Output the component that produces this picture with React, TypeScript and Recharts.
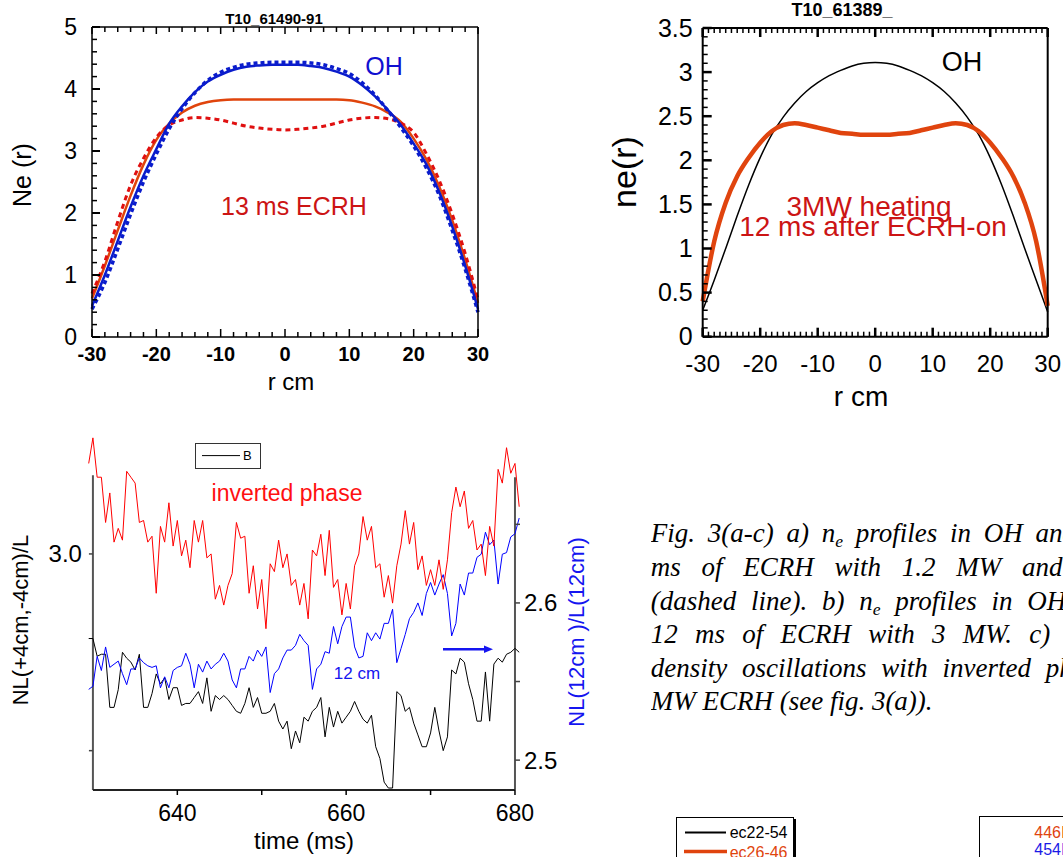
import React from "react";
import { LineChart, Line, XAxis, YAxis, ReferenceLine } from "recharts";

const SANS = '"Liberation Sans", Arial, Helvetica, sans-serif';
const SERIF = '"Liberation Serif", "Times New Roman", Times, serif';

// (a) T10_61490-91: Ne(r) in OH and after 13 ms of ECRH
const radiusA = [-30, -28, -26, -24, -22, -20, -18, -16, -14, -12, -10, -8, -6, -4, -2, 0, 2, 4, 6, 8, 10, 12, 14, 16, 18, 20, 22, 24, 26, 28, 30];
const neOhA = [0.5, 1.0, 1.55, 2.1, 2.6, 3.03, 3.44, 3.72, 3.95, 4.12, 4.23, 4.31, 4.36, 4.38, 4.39, 4.39, 4.39, 4.37, 4.34, 4.28, 4.2, 4.06, 3.88, 3.66, 3.42, 3.12, 2.78, 2.33, 1.78, 1.15, 0.45];
const neOhDashA = [0.45, 0.88, 1.42, 1.98, 2.5, 2.95, 3.36, 3.68, 3.94, 4.14, 4.27, 4.35, 4.4, 4.42, 4.43, 4.43, 4.43, 4.42, 4.39, 4.33, 4.25, 4.1, 3.9, 3.65, 3.38, 3.08, 2.72, 2.28, 1.72, 1.1, 0.4];
const neEcrhA = [0.62, 1.15, 1.72, 2.28, 2.78, 3.18, 3.44, 3.62, 3.73, 3.79, 3.82, 3.83, 3.83, 3.83, 3.83, 3.83, 3.83, 3.83, 3.83, 3.83, 3.82, 3.78, 3.72, 3.62, 3.47, 3.2, 2.86, 2.42, 1.88, 1.25, 0.55];
const neEcrhDashA = [0.7, 1.22, 1.86, 2.45, 2.88, 3.22, 3.42, 3.5, 3.54, 3.53, 3.5, 3.45, 3.4, 3.37, 3.35, 3.34, 3.35, 3.37, 3.4, 3.45, 3.5, 3.53, 3.54, 3.52, 3.45, 3.3, 2.95, 2.52, 1.98, 1.35, 0.6];

// (b) T10_61389_: ne(r) in OH and 12 ms after 3 MW ECRH-on
const radiusB = [-30, -28, -26, -24, -22, -20, -18, -16, -14, -12, -10, -8, -6, -4, -2, 0, 2, 4, 6, 8, 10, 12, 14, 16, 18, 20, 22, 24, 26, 28, 30];
const neOhB = [0.3, 0.64, 1.0, 1.37, 1.72, 2.03, 2.29, 2.49, 2.65, 2.78, 2.88, 2.96, 3.02, 3.07, 3.1, 3.11, 3.1, 3.07, 3.02, 2.96, 2.88, 2.78, 2.65, 2.49, 2.29, 2.03, 1.72, 1.37, 1.0, 0.64, 0.28];
const neEcrhB = [0.4, 1.08, 1.52, 1.82, 2.03, 2.2, 2.33, 2.4, 2.42, 2.4, 2.37, 2.34, 2.31, 2.3, 2.29, 2.29, 2.29, 2.3, 2.31, 2.34, 2.37, 2.4, 2.42, 2.4, 2.33, 2.2, 2.03, 1.82, 1.52, 1.08, 0.35];

// (c) line densities vs time, sampled every 0.5 ms from 629.5 ms
const timeStart = 629.5;
const timeStep = 0.5;
const nlInverted = [
  3.046, 3.059, 3.039, 3.039, 3.016, 3.031, 3.006, 3.013, 3.007, 3.042,
  3.039, 3.036, 3.016, 3.017, 3.006, 3.009, 2.98, 3.014, 3.006, 3.026,
  3.004, 3.017, 2.999, 3.007, 2.993, 3.017, 3.006, 3.017, 2.998, 3.0,
  2.977, 2.984, 2.974, 2.984, 2.99, 3.016, 3.008, 3.009, 2.98, 2.994,
  2.972, 2.987, 2.962, 2.995, 2.991, 3.007, 2.993, 3.0, 2.984, 2.987,
  2.974, 2.985, 2.967, 3.002, 2.999, 3.01, 2.989, 3.012, 2.983, 2.987,
  2.969, 2.985, 2.972, 2.994, 3.0, 3.019, 3.007, 3.014, 2.993, 2.995,
  2.978, 2.989, 2.975, 2.994, 3.005, 3.022, 3.005, 3.016, 2.992, 2.999,
  2.984, 2.992, 2.984, 2.997, 2.982, 2.997, 3.021, 3.034, 3.024, 3.032,
  3.013, 3.017, 3.002, 3.005, 2.989, 3.014, 3.004, 3.043, 3.036, 3.054,
  3.041, 3.046, 3.024,
];
const nlB = [
  2.957, 2.957, 2.948, 2.949, 2.949, 2.922, 2.922, 2.931, 2.95, 2.947,
  2.945, 2.941, 2.949, 2.922, 2.922, 2.929, 2.939, 2.934, 2.937, 2.926,
  2.932, 2.932, 2.923, 2.924, 2.924, 2.927, 2.93, 2.924, 2.937, 2.92,
  2.928, 2.926, 2.928, 2.926, 2.923, 2.92, 2.919, 2.924, 2.932, 2.922,
  2.927, 2.919, 2.919, 2.92, 2.924, 2.915, 2.911, 2.915, 2.901, 2.91,
  2.904, 2.917, 2.915, 2.92, 2.922, 2.927, 2.907, 2.922, 2.912, 2.92,
  2.914, 2.917, 2.92, 2.925, 2.92, 2.916, 2.914, 2.918, 2.902, 2.896,
  2.884, 2.881, 2.881, 2.93, 2.928, 2.92, 2.922, 2.914, 2.908, 2.902,
  2.902, 2.909, 2.922, 2.91, 2.9, 2.907, 2.941, 2.939, 2.947, 2.945,
  2.934, 2.926, 2.915, 2.915, 2.94, 2.915, 2.944, 2.947, 2.945, 2.949,
  2.95, 2.952, 2.95,
];
const nl12cm = [
  2.545, 2.547, 2.566, 2.557, 2.572, 2.559, 2.561, 2.563, 2.555, 2.548,
  2.558, 2.558, 2.565, 2.562, 2.56, 2.559, 2.56, 2.546, 2.553, 2.546,
  2.557, 2.559, 2.56, 2.568, 2.561, 2.546, 2.561, 2.556, 2.563, 2.558,
  2.561, 2.563, 2.568, 2.563, 2.551, 2.546, 2.558, 2.558, 2.566, 2.563,
  2.57, 2.566, 2.572, 2.543, 2.555, 2.558, 2.565, 2.57, 2.57, 2.573,
  2.58, 2.576, 2.573, 2.545, 2.558, 2.561, 2.569, 2.568, 2.585, 2.574,
  2.585, 2.591, 2.591, 2.572, 2.565, 2.566, 2.581, 2.576, 2.581, 2.577,
  2.587, 2.587, 2.596, 2.562, 2.571, 2.58, 2.59, 2.594, 2.6, 2.592,
  2.606, 2.613, 2.605, 2.612, 2.618, 2.606, 2.579, 2.587, 2.612, 2.605,
  2.619, 2.619, 2.629, 2.631, 2.645, 2.637, 2.64, 2.612, 2.631, 2.632,
  2.642, 2.644, 2.654,
];

// axis ticks
const rMajor = [-30, -20, -10, 0, 10, 20, 30];
const neMajorA = [0, 1, 2, 3, 4, 5];
const neMajorB = [0, 0.5, 1, 1.5, 2, 2.5, 3, 3.5];
const timeTicks = [640, 650, 660, 670, 680];
const timeLabels = [640, 660, 680];
const leftTicksC = [2.9, 3.0];
const leftLabelsC = [3.0];
const rightTicksC = [2.5, 2.55, 2.6, 2.65];
const rightLabelsC = [2.5, 2.6];

const steps = (from: number, to: number, step: number) => {
  const out: number[] = [];
  for (let v = from; v <= to + 1e-9; v += step) out.push(Number(v.toFixed(3)));
  return out;
};

const near = (list: number[], v: number) => list.some((m) => Math.abs(m - v) < 1e-6);

type TickCfg = {
  side: "bottom" | "top" | "left" | "right";
  major: number[];
  labels?: number[];
  fmt?: (v: number) => string;
  majorLen: number;
  minorLen: number;
  inward: boolean;
  gap?: number;
  fontSize?: number;
  fontWeight?: number | string;
  color?: string;
  width?: number;
  shift?: number;
};

function tickRenderer(c: TickCfg) {
  return (props: any) => {
    const v = Number(props.payload?.value);
    const vertical = c.side === "left" || c.side === "right";
    const x = Number(props.x) + (vertical ? c.shift ?? 0 : 0);
    const y = Number(props.y);
    const isMajor = near(c.major, v);
    const len = isMajor ? c.majorLen : c.minorLen;
    const stroke = c.color ?? "#000";
    const sw = isMajor ? c.width ?? 1.5 : Math.min(c.width ?? 1.5, 1.5);
    const gap = c.gap ?? 8;
    const label = c.labels && near(c.labels, v) ? (c.fmt ? c.fmt(v) : String(v)) : null;
    const textProps = {
      fontFamily: SANS,
      fontSize: c.fontSize ?? 20,
      fontWeight: c.fontWeight ?? "normal",
      fill: "#000",
    };
    if (!vertical) {
      const dir = (c.side === "bottom") === c.inward ? -1 : 1;
      return (
        <g>
          <line x1={x} x2={x} y1={y} y2={y + dir * len} stroke={stroke} strokeWidth={sw} />
          {label !== null && (
            <text x={x} y={c.side === "bottom" ? y + gap : y - gap} textAnchor="middle" dy="0.35em" {...textProps}>
              {label}
            </text>
          )}
        </g>
      );
    }
    const dir = (c.side === "left") === c.inward ? 1 : -1;
    return (
      <g>
        <line x1={x} x2={x + dir * len} y1={y} y2={y} stroke={stroke} strokeWidth={sw} />
        {label !== null && (
          <text
            x={c.side === "left" ? x - gap : x + gap}
            y={y}
            textAnchor={c.side === "left" ? "end" : "start"}
            dy="0.35em"
            {...textProps}
          >
            {label}
          </text>
        )}
      </g>
    );
  };
}

// axes are 1px thick so that recharts still draws them; margins take that pixel back
const AX = 1;
const axisCommon = { tickSize: 0, tickMargin: 0, tickLine: false, interval: 0 as const };

type TxtProps = {
  x: number;
  y: number;
  size: number;
  color?: string;
  weight?: string | number;
  rotate?: boolean;
  children: React.ReactNode;
};

const Txt = ({ x, y, size, color = "#000", weight = "normal", rotate, children }: TxtProps) => (
  <div
    style={{
      position: "absolute",
      left: x,
      top: y,
      transform: `translate(-50%, -50%)${rotate ? " rotate(-90deg)" : ""}`,
      fontFamily: SANS,
      fontSize: size,
      fontWeight: weight,
      color,
      lineHeight: 1,
      whiteSpace: "nowrap",
    }}
  >
    {children}
  </div>
);

// ---------- panel (a) ----------
const PA = { w: 540, h: 400, left: 92, right: 478, top: 27, bottom: 337 };
const panelA = radiusA.map((r, i) => ({
  r,
  oh: neOhA[i],
  ohDash: neOhDashA[i],
  ecrh: neEcrhA[i],
  ecrhDash: neEcrhDashA[i],
}));

function PanelA() {
  const xTicks = steps(-30, 30, 2);
  const yTicks = steps(0, 5, 0.2);
  const frame = { stroke: "#000", strokeWidth: 1.5 };
  return (
    <div style={{ position: "absolute", left: 0, top: 0 }}>
      <LineChart
        width={PA.w}
        height={PA.h}
        data={panelA}
        margin={{ top: PA.top - AX, left: PA.left - AX, right: PA.w - PA.right - AX, bottom: PA.h - PA.bottom - AX }}
      >
        <XAxis
          xAxisId="b"
          dataKey="r"
          type="number"
          domain={[-30, 30]}
          ticks={xTicks}
          height={AX}
          axisLine={frame}
          {...axisCommon}
          tick={tickRenderer({ side: "bottom", major: rMajor, labels: rMajor, majorLen: 8, minorLen: 5, inward: true, gap: 17, fontSize: 20, fontWeight: "bold" })}
        />
        <XAxis
          xAxisId="t"
          orientation="top"
          dataKey="r"
          type="number"
          domain={[-30, 30]}
          ticks={xTicks}
          height={AX}
          axisLine={frame}
          {...axisCommon}
          tick={tickRenderer({ side: "top", major: rMajor, majorLen: 7, minorLen: 5, inward: true })}
        />
        <YAxis
          yAxisId="l"
          type="number"
          domain={[0, 5]}
          ticks={yTicks}
          width={AX}
          axisLine={frame}
          {...axisCommon}
          tick={tickRenderer({ side: "left", major: neMajorA, labels: neMajorA, majorLen: 8, minorLen: 5, inward: true, gap: 15, fontSize: 23, width: 2 })}
        />
        <YAxis
          yAxisId="r"
          orientation="right"
          type="number"
          domain={[0, 5]}
          ticks={yTicks}
          width={AX}
          axisLine={frame}
          {...axisCommon}
          tick={tickRenderer({ side: "right", major: neMajorA, majorLen: 8, minorLen: 5, inward: true, width: 2 })}
        />
        <Line xAxisId="b" yAxisId="l" dataKey="ecrh" type="monotone" stroke="#e0440c" strokeWidth={2.5} dot={false} activeDot={false} isAnimationActive={false} />
        <Line xAxisId="b" yAxisId="l" dataKey="ecrhDash" type="monotone" stroke="#e01010" strokeWidth={3} strokeDasharray="5 4" dot={false} activeDot={false} isAnimationActive={false} />
        <Line xAxisId="b" yAxisId="l" dataKey="oh" type="monotone" stroke="#0a1ccc" strokeWidth={2.5} dot={false} activeDot={false} isAnimationActive={false} />
        <Line xAxisId="b" yAxisId="l" dataKey="ohDash" type="monotone" stroke="#0a1ccc" strokeWidth={3.5} strokeDasharray="4 3" dot={false} activeDot={false} isAnimationActive={false} />
      </LineChart>
    </div>
  );
}

// ---------- panel (b) ----------
const PB = { x0: 600, w: 463, h: 420, left: 102.7, right: 447.7, top: 28, bottom: 336.7 };
const panelB = radiusB.map((r, i) => ({ r, oh: neOhB[i], ecrh: neEcrhB[i] }));

function PanelB() {
  const xTicks = steps(-30, 30, 1);
  const yTicks = steps(0, 3.5, 0.1);
  const frame = { stroke: "#000", strokeWidth: 2 };
  return (
    <div style={{ position: "absolute", left: PB.x0, top: 0 }}>
      <LineChart
        width={PB.w}
        height={PB.h}
        data={panelB}
        margin={{ top: PB.top - AX, left: PB.left - AX, right: PB.w - PB.right - AX, bottom: PB.h - PB.bottom - AX }}
      >
        <XAxis
          xAxisId="b"
          dataKey="r"
          type="number"
          domain={[-30, 30]}
          ticks={xTicks}
          height={AX}
          axisLine={frame}
          {...axisCommon}
          tick={tickRenderer({ side: "bottom", major: rMajor, labels: rMajor, majorLen: 9, minorLen: 5, inward: true, gap: 27, fontSize: 24, width: 2.5 })}
        />
        <XAxis
          xAxisId="t"
          orientation="top"
          dataKey="r"
          type="number"
          domain={[-30, 30]}
          ticks={xTicks}
          height={AX}
          axisLine={frame}
          {...axisCommon}
          tick={tickRenderer({ side: "top", major: rMajor, majorLen: 9, minorLen: 5, inward: true, width: 2.5 })}
        />
        <YAxis
          yAxisId="l"
          type="number"
          domain={[0, 3.5]}
          ticks={yTicks}
          width={AX}
          axisLine={frame}
          {...axisCommon}
          tick={tickRenderer({ side: "left", major: neMajorB, labels: neMajorB, majorLen: 9, minorLen: 5, inward: true, gap: 10, fontSize: 25, width: 2.5 })}
        />
        <YAxis
          yAxisId="r"
          orientation="right"
          type="number"
          domain={[0, 3.5]}
          ticks={yTicks}
          width={AX}
          axisLine={frame}
          {...axisCommon}
          tick={tickRenderer({ side: "right", major: neMajorB, majorLen: 9, minorLen: 5, inward: true, width: 2.5 })}
        />
        <Line xAxisId="b" yAxisId="l" dataKey="oh" type="monotone" stroke="#000" strokeWidth={1.5} dot={false} activeDot={false} isAnimationActive={false} />
        <Line xAxisId="b" yAxisId="l" dataKey="ecrh" type="monotone" stroke="#e0440e" strokeWidth={4.5} dot={false} activeDot={false} isAnimationActive={false} />
      </LineChart>
    </div>
  );
}

// ---------- panel (c) ----------
const PC = { y0: 420, w: 600, h: 437, left: 88.7, right: 519.2, top: 10, bottom: 370 };
const times = nlInverted.map((_, i) => timeStart + i * timeStep);
const panelC = times.map((t, i) => ({ t, red: nlInverted[i], black: nlB[i], blue: nl12cm[i] }));
const tMin = times[0];
const tMax = times[times.length - 1];
const leftDomainC: [number, number] = [2.88, 3.063];
const rightDomainC: [number, number] = [2.481, 2.71];
const leftAxisTop = 3.04;
const rightAxisTop = 2.68;

function PanelC() {
  const pxPerMs = (PC.right - PC.left) / (tMax - tMin);
  const shiftL = (630 - tMin) * pxPerMs;
  const shiftR = (680 - tMax) * pxPerMs;
  return (
    <div style={{ position: "absolute", left: 0, top: PC.y0 }}>
      <LineChart
        width={PC.w}
        height={PC.h}
        data={panelC}
        margin={{ top: PC.top, left: PC.left - AX, right: PC.w - PC.right - AX, bottom: PC.h - PC.bottom - AX }}
      >
        <XAxis
          xAxisId="b"
          dataKey="t"
          type="number"
          domain={[tMin, tMax]}
          ticks={timeTicks}
          height={AX}
          axisLine={false}
          {...axisCommon}
          tick={tickRenderer({ side: "bottom", major: timeTicks, labels: timeLabels, majorLen: 5, minorLen: 5, inward: false, gap: 23, fontSize: 23, width: 1.5 })}
        />
        <YAxis
          yAxisId="l"
          type="number"
          domain={leftDomainC}
          ticks={leftTicksC}
          width={AX}
          axisLine={false}
          {...axisCommon}
          tick={tickRenderer({ side: "left", major: leftTicksC, labels: leftLabelsC, fmt: (v) => v.toFixed(1), majorLen: 4, minorLen: 4, inward: false, gap: 11, fontSize: 24, color: "#444", shift: shiftL })}
        />
        <YAxis
          yAxisId="r"
          orientation="right"
          type="number"
          domain={rightDomainC}
          ticks={rightTicksC}
          width={AX}
          axisLine={false}
          {...axisCommon}
          tick={tickRenderer({ side: "right", major: rightTicksC, labels: rightLabelsC, fmt: (v) => v.toFixed(1), majorLen: 5, minorLen: 5, inward: false, gap: 9, fontSize: 24, color: "#444", shift: shiftR })}
        />
        <ReferenceLine xAxisId="b" yAxisId="l" segment={[{ x: 630, y: leftDomainC[0] }, { x: 630, y: leftAxisTop }]} stroke="#555" strokeWidth={2} />
        <ReferenceLine xAxisId="b" yAxisId="r" segment={[{ x: 680, y: rightDomainC[0] }, { x: 680, y: rightAxisTop }]} stroke="#555" strokeWidth={2} />
        <ReferenceLine xAxisId="b" yAxisId="l" segment={[{ x: 630, y: leftDomainC[0] }, { x: 680, y: leftDomainC[0] }]} stroke="#222" strokeWidth={2} />
        <Line xAxisId="b" yAxisId="l" dataKey="black" type="linear" stroke="#000" strokeWidth={1} dot={false} activeDot={false} isAnimationActive={false} />
        <Line xAxisId="b" yAxisId="r" dataKey="blue" type="linear" stroke="#0000ff" strokeWidth={1} dot={false} activeDot={false} isAnimationActive={false} />
        <Line xAxisId="b" yAxisId="l" dataKey="red" type="linear" stroke="#ff0000" strokeWidth={1} dot={false} activeDot={false} isAnimationActive={false} />
      </LineChart>
    </div>
  );
}

function Caption() {
  const sub = (s: string) => (
    <sub style={{ fontSize: "0.65em", verticalAlign: "-0.3em", lineHeight: 0 }}>{s}</sub>
  );
  const lines: { spacing: number; content: React.ReactNode }[] = [
    { spacing: 6, content: <>Fig. 3(a-c) a) n{sub("e")} profiles in OH and</> },
    { spacing: 14, content: <>ms of ECRH with 1.2 MW and</> },
    { spacing: 8, content: <>(dashed line). b) n{sub("e")} profiles in OH</> },
    { spacing: 10.5, content: <>12 ms of ECRH with 3 MW. c)</> },
    { spacing: 8, content: <>density oscillations with inverted phase</> },
    { spacing: 0, content: <>MW ECRH (see fig. 3(a)).</> },
  ];
  return (
    <div
      style={{
        position: "absolute",
        left: 650.7,
        top: 517.4,
        width: 1063 - 650.7,
        overflow: "hidden",
        fontFamily: SERIF,
        fontStyle: "italic",
        fontSize: 27,
        lineHeight: "33.6px",
        color: "#000",
      }}
    >
      {lines.map((l, i) => (
        <div key={i} style={{ whiteSpace: "nowrap", wordSpacing: l.spacing }}>
          {l.content}
        </div>
      ))}
    </div>
  );
}

function LegendBoxes() {
  return (
    <>
      {/* legend of panel (c) */}
      <div style={{ position: "absolute", left: 195, top: 442.7, width: 64, height: 24, border: "1px solid #333", background: "#fff" }}>
        <svg width={64} height={24} style={{ position: "absolute", left: 0, top: 0 }}>
          <line x1={6} x2={44} y1={11.6} y2={11.6} stroke="#000" strokeWidth={1} />
        </svg>
        <div style={{ position: "absolute", left: 47, top: 11.6, transform: "translateY(-50%)", fontFamily: SANS, fontSize: 13, lineHeight: 1 }}>B</div>
      </div>
      {/* clipped legends of the figures below */}
      <div style={{ position: "absolute", left: 675.7, top: 817.3, width: 116, height: 60, border: "1.2px solid #000", boxShadow: "2px 2px 0 #000", background: "#fff" }}>
        <svg width={116} height={60} style={{ position: "absolute", left: 0, top: 0 }}>
          <line x1={8} x2={49} y1={14.5} y2={14.5} stroke="#000" strokeWidth={2} />
          <line x1={7} x2={50} y1={33.5} y2={33.5} stroke="#e0440e" strokeWidth={3.5} />
        </svg>
        <div style={{ position: "absolute", left: 53, top: 14.5, transform: "translateY(-50%)", fontFamily: SANS, fontSize: 16, lineHeight: 1 }}>ec22-54</div>
        <div style={{ position: "absolute", left: 53, top: 34.5, transform: "translateY(-50%)", fontFamily: SANS, fontSize: 16, lineHeight: 1, color: "#e0440e" }}>ec26-46</div>
      </div>
      <div style={{ position: "absolute", left: 979.3, top: 815.7, width: 120, height: 60, border: "1.5px solid #000", background: "#fff" }}>
        <div style={{ position: "absolute", left: 54, top: 16, transform: "translateY(-50%)", fontFamily: SANS, fontSize: 16, lineHeight: 1, color: "#e0440e" }}>446I</div>
        <div style={{ position: "absolute", left: 54, top: 33.5, transform: "translateY(-50%)", fontFamily: SANS, fontSize: 16, lineHeight: 1, color: "#1a1ae6" }}>454I</div>
      </div>
    </>
  );
}

export default function App() {
  return (
    <div style={{ position: "absolute", left: 0, top: 0, width: 1063, height: 857, overflow: "hidden", background: "#fff" }}>
      <PanelA />
      <PanelB />
      <PanelC />

      {/* panel (a) texts */}
      <Txt x={274} y={18} size={15} weight="bold">T10_61490-91</Txt>
      <Txt x={22} y={175} size={25} rotate>Ne (r)</Txt>
      <Txt x={291} y={382} size={24}>r cm</Txt>
      <Txt x={384} y={66} size={25} color="#1010d0">OH</Txt>
      <Txt x={294} y={206} size={25} color="#cc1414">13 ms ECRH</Txt>

      {/* panel (b) texts */}
      <Txt x={842} y={10} size={18} weight="bold">T10_61389_</Txt>
      <Txt x={624} y={172} size={34} rotate>ne(r)</Txt>
      <Txt x={861} y={397} size={28}>r cm</Txt>
      <Txt x={962} y={62} size={27}>OH</Txt>
      <Txt x={869} y={207} size={28} color="#cc1414">3MW heating</Txt>
      <Txt x={873} y={227} size={28} color="#cc1414">12 ms after ECRH-on</Txt>

      {/* panel (c) texts */}
      <Txt x={21} y={620} size={22} rotate>NL(+4cm,-4cm)/L</Txt>
      <Txt x={577} y={632} size={22} rotate color="#1515f0">NL(12cm )/L(12cm)</Txt>
      <Txt x={304} y={841} size={24}>time (ms)</Txt>
      <Txt x={287} y={493} size={23} color="#ff1010">inverted phase</Txt>
      <Txt x={357} y={673} size={17} color="#1515f0">12 cm</Txt>
      <svg width={60} height={12} style={{ position: "absolute", left: 440, top: 643 }}>
        <line x1={3} x2={46} y1={6.3} y2={6.3} stroke="#1515f0" strokeWidth={2.5} />
        <polygon points="44,2.5 53,6.3 44,10" fill="#1515f0" />
      </svg>

      <LegendBoxes />
      <Caption />
    </div>
  );
}
